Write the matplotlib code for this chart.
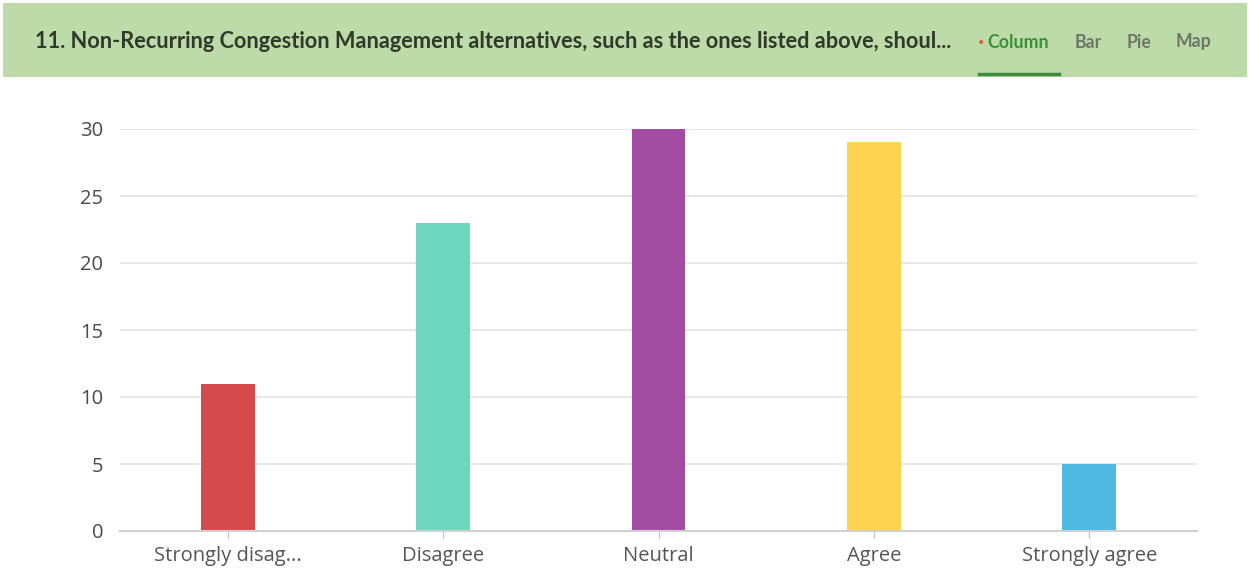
import matplotlib
matplotlib.use("Agg")
import matplotlib.pyplot as plt
from matplotlib.patches import Rectangle
from matplotlib.lines import Line2D

categories = ["Strongly disag...", "Disagree", "Neutral", "Agree", "Strongly agree"]
values = [11, 23, 30, 29, 5]
colors = ["#d64a4b", "#6ed6bc", "#a34ca4", "#fdd44f", "#4fb9e3"]
yticks = [0, 5, 10, 15, 20, 25, 30]
title = "11. Non-Recurring Congestion Management alternatives, such as the ones listed above, shoul..."
tabs = ["Column", "Bar", "Pie", "Map"]

plt.rcParams['font.family'] = ['Lato', 'DejaVu Sans']

W, H = 1250, 571
fig = plt.figure(figsize=(W/100, H/100), dpi=100)
fig.patch.set_facecolor("white")

# header band
fig.patches.append(Rectangle((3/W, 1 - 77/H), 1244/W, 74/H, transform=fig.transFigure,
                             facecolor="#bcdba8", edgecolor="none", zorder=0))
fig.text(35/W, 1 - 42/H, title, fontsize=15.7, color="#2f3a2a", va="center", ha="left",
         fontweight="bold")
tab_x = [987, 1075, 1127, 1176]
for t, x in zip(tabs, tab_x):
    fig.text(x/W, 1 - 42/H, t, fontsize=12.8, va="center", ha="left",
             color="#3b8f3a" if t == "Column" else "#6d7566", fontweight="bold")
fig.text(981/W, 1 - 43/H, "•", fontsize=8, color="#e05a4a", va="center", ha="center")
fig.lines.append(Line2D([979/W, 1059/W], [1 - 74/H, 1 - 74/H], transform=fig.transFigure,
                        color="#3d8b37", linewidth=2.5))

ax = fig.add_axes([120/W, 1 - 531/H, (1197 - 120)/W, (531 - 129)/H])
x = list(range(len(categories)))
ax.bar(x, values, width=0.25, color=colors, zorder=3)
ax.set_xlim(-0.5, len(categories) - 0.5)
ax.set_ylim(0, 30)
ax.set_yticks(yticks)
ax.set_xticks(x)
ax.set_xticklabels(categories, family=['Open Sans', 'DejaVu Sans'])
for lab in ax.get_yticklabels():
    lab.set_family(['Open Sans', 'DejaVu Sans'])
ax.yaxis.grid(True, color="#e4e4e4", linewidth=1.2, zorder=0)
ax.set_axisbelow(True)
for s in ["top", "right", "left"]:
    ax.spines[s].set_visible(False)
ax.spines["bottom"].set_color("#d0d0d0")
ax.spines["bottom"].set_linewidth(1.5)
ax.spines["bottom"].set_zorder(4)
ax.tick_params(axis="y", length=0, pad=12, labelsize=14.5, labelcolor="#4a4a4a")
ax.tick_params(axis="x", length=5, color="#bbbbbb", pad=6, labelsize=14.5, labelcolor="#555555")

fig.savefig("out.png", dpi=100)
